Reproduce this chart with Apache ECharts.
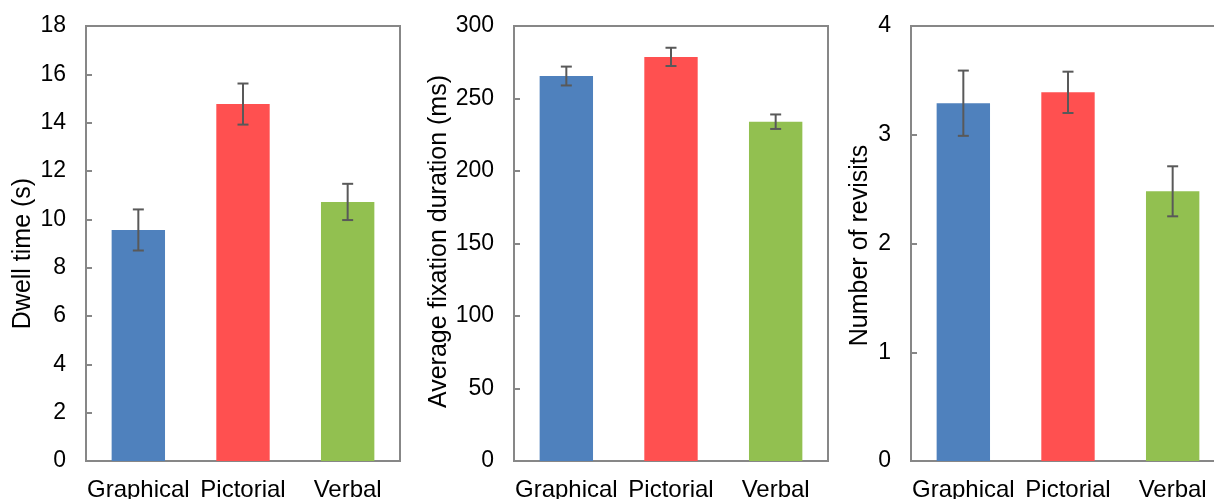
<!DOCTYPE html>
<html>
<head>
<meta charset="utf-8">
<script src="https://cdn.jsdelivr.net/npm/echarts@6/dist/echarts.min.js"></script>
<style>
html,body{margin:0;padding:0;background:#fff}
#main{width:1214px;height:499px}
</style>
</head>
<body>
<div id="main"></div>
<script>
// categories & bar colours
var categories = ['Graphical', 'Pictorial', 'Verbal'];
var barColors = ['#4F81BD', '#FF5050', '#92C050'];

// panel 1 - dwell time
var dwellMean = [9.56, 14.77, 10.72];
var dwellErr = [0.85, 0.85, 0.75];
// panel 2 - average fixation duration
var fixMean = [265.5, 278.7, 234.0];
var fixErr = [6.5, 6.3, 5.0];
// panel 3 - revisits
var revisitMean = [3.29, 3.39, 2.48];
var revisitErr = [0.30, 0.19, 0.23];

var yMax = [18, 300, 4];
var yStep = [2, 50, 1];
var yNames = ['Dwell time (s)', 'Average fixation duration (ms)', 'Number of revisits'];

var means = [dwellMean, fixMean, revisitMean];
var errs = [dwellErr, fixErr, revisitErr];

var FONT = "'Liberation Sans', Arial, sans-serif";
var GRAY = '#878787';

// plot boxes (the last one runs past the right edge of the page)
var gridLefts = [86, 514, 911];
var nameGaps = [50, 57, 38];
var namePads = [[0, 20, 0, 0], [0, 0, 0, 4], [0, 4, 0, 0]];

function errorItem(params, api) {
    var x = api.value(0);
    var lo = api.coord([x, api.value(1)]);
    var hi = api.coord([x, api.value(2)]);
    var cap = 5.5;
    var style = {stroke: '#595959', lineWidth: 2};
    return {
        type: 'group',
        children: [
            {type: 'line', shape: {x1: hi[0], y1: hi[1], x2: lo[0], y2: lo[1]}, style: style},
            {type: 'line', shape: {x1: hi[0] - cap, y1: hi[1], x2: hi[0] + cap, y2: hi[1]}, style: style},
            {type: 'line', shape: {x1: lo[0] - cap, y1: lo[1], x2: lo[0] + cap, y2: lo[1]}, style: style}
        ]
    };
}

var grids = [], xAxes = [], yAxes = [], series = [];
for (var i = 0; i < 3; i++) {
    grids.push({
        left: gridLefts[i], width: 314, top: 26, height: 435,
        outerBoundsMode: 'none', containLabel: false,
        show: true, borderColor: GRAY, borderWidth: 2, backgroundColor: 'transparent'
    });
    xAxes.push({
        type: 'category', gridIndex: i, data: categories,
        axisLine: {lineStyle: {color: GRAY, width: 2}},
        axisTick: {show: false},
        axisLabel: {color: '#000', fontFamily: FONT, fontSize: 24, margin: 17, interval: 0}
    });
    yAxes.push({
        type: 'value', gridIndex: i, min: 0, max: yMax[i], interval: yStep[i],
        name: yNames[i], nameLocation: 'middle', nameGap: nameGaps[i],
        nameTextStyle: {color: '#000', fontFamily: FONT, fontSize: 25, padding: namePads[i]},
        axisLine: {show: true, lineStyle: {color: GRAY, width: 2}},
        axisTick: {show: true, inside: true, length: 6, lineStyle: {color: GRAY, width: 2}},
        axisLabel: {color: '#000', fontFamily: FONT, fontSize: 23, margin: 20},
        splitLine: {show: false}
    });
    var barData = [], errData = [];
    for (var j = 0; j < categories.length; j++) {
        barData.push({value: means[i][j], itemStyle: {color: barColors[j]}});
        errData.push([j, means[i][j] - errs[i][j], means[i][j] + errs[i][j]]);
    }
    series.push({
        type: 'bar', xAxisIndex: i, yAxisIndex: i, data: barData,
        barWidth: '51%', silent: true
    });
    series.push({
        type: 'custom', xAxisIndex: i, yAxisIndex: i, data: errData,
        encode: {x: 0, y: [1, 2]}, renderItem: errorItem, z: 10, silent: true
    });
}

var myChart = echarts.init(document.getElementById('main'));
myChart.setOption({
    animation: false,
    backgroundColor: '#fff',
    grid: grids,
    xAxis: xAxes,
    yAxis: yAxes,
    series: series
});
</script>
</body>
</html>
